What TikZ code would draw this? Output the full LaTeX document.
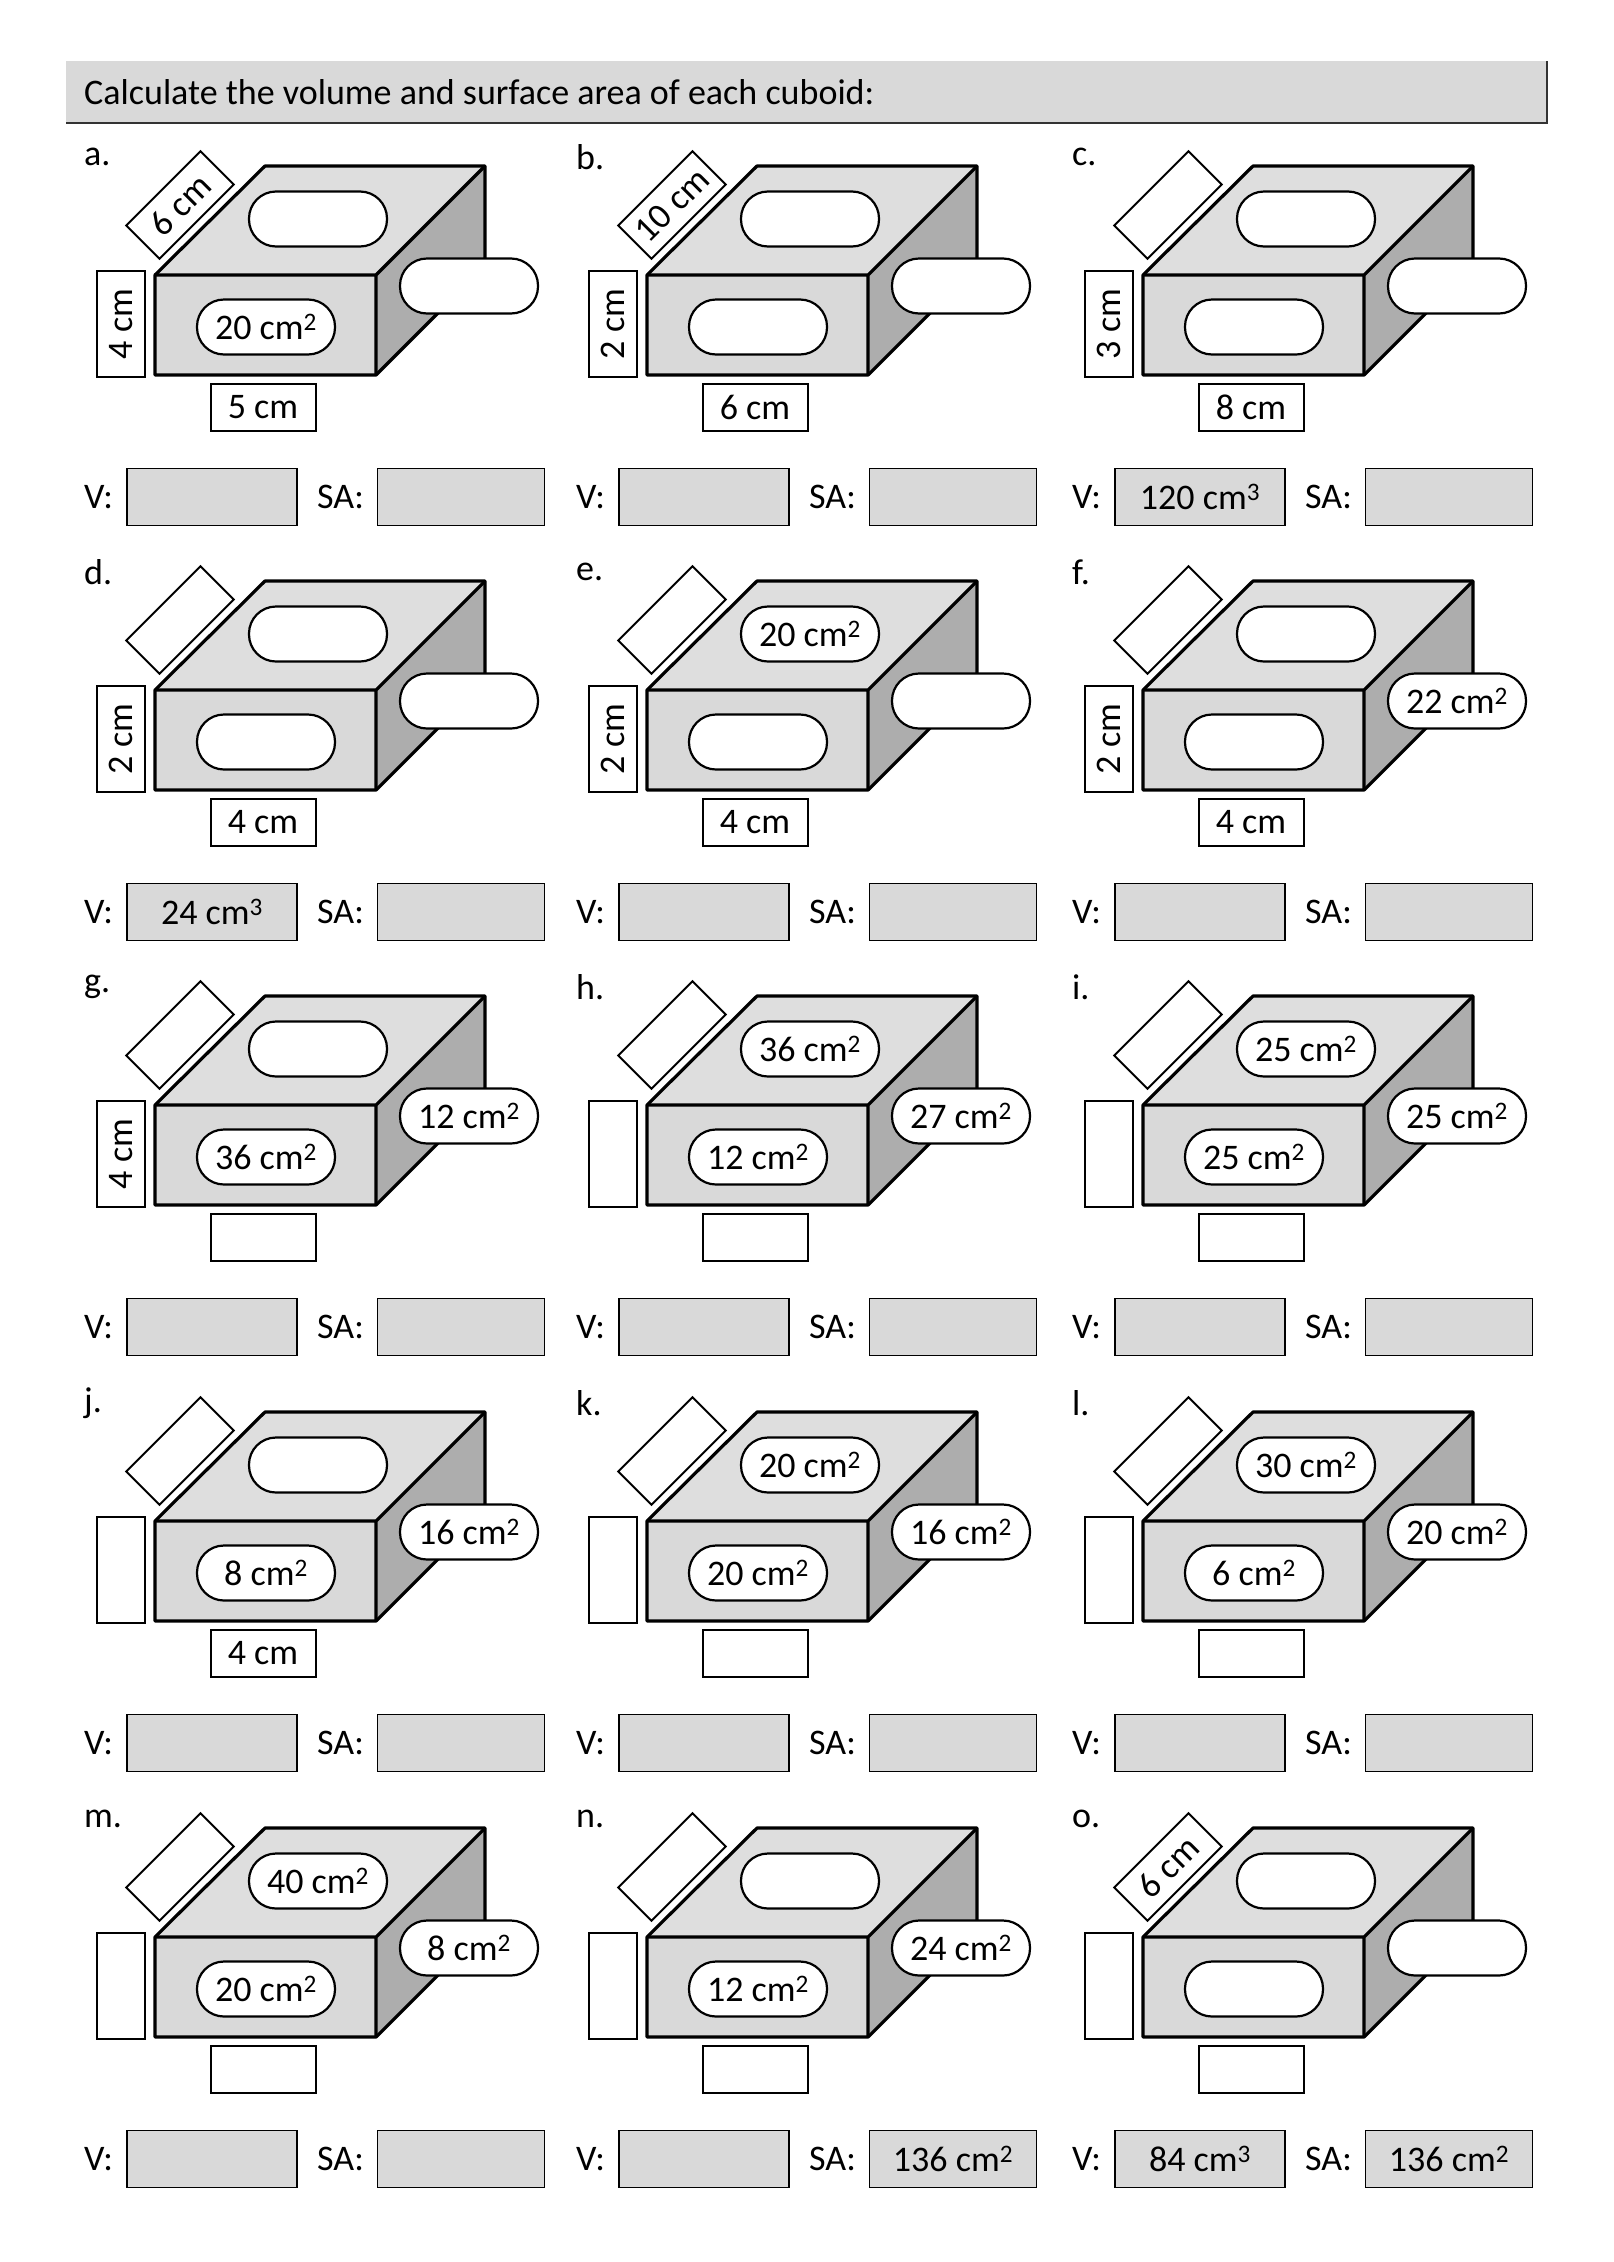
\documentclass[tikz,border=0pt]{standalone}
\usepackage{fontspec}
\setmainfont{Carlito}
\tikzset{
  lbl/.style={draw=black,line width=2.2pt,fill=white,rounded corners=27pt,minimum width=138pt,minimum height=55pt,inner sep=0pt,font=\fontsize{36}{40}\selectfont},
  dimbox/.style={draw=black,line width=2pt,fill=white,inner sep=0pt,font=\fontsize{36}{40}\selectfont},
  ansbox/.style={draw=black,line width=1.8pt,fill=black!15,minimum width=170pt,minimum height=57pt,inner sep=0pt,font=\fontsize{36}{40}\selectfont},
  txt/.style={inner sep=0pt,font=\fontsize{36}{40}\selectfont},
  edge/.style={draw=black,line width=3.2pt,line join=round}
}
\newcommand\cub[8]{%
 \begin{scope}[shift={(#1)}]
  \fill[black!13] (0,0) -- (110,-109) -- (330,-109) -- (221,0) -- cycle;
  \fill[black!32] (221,0) -- (330,-109) -- (330,-9) -- (221,100) -- cycle;
  \fill[black!15] (0,0) rectangle (221,100);
  \draw[edge] (0,0) -- (110,-109) -- (330,-109) -- (330,-9) -- (221,100) -- (0,100) -- cycle;
  \draw[edge] (0,0) -- (221,0) -- (330,-109) (221,0) -- (221,100);
  \node[txt,anchor=west] (#2let) at (-71,-118) {#2.};
  \node[dimbox,minimum width=105pt,minimum height=47pt,rotate=45] (#2dep) at (25,-70) {#3};
  \node[dimbox,minimum width=106pt,minimum height=48pt,rotate=90] (#2hei) at (-34,49) {#4};
  \node[dimbox,minimum width=105pt,minimum height=47pt] (#2wid) at (108,132) {#5};
  \node[lbl] (#2top) at (163,-56) {#6};
  \node[lbl] (#2rig) at (314,11) {#7};
  \node[lbl] (#2fro) at (111,52) {#8};
 \end{scope}}
\newcommand\ans[4]{%
 \begin{scope}[shift={(#1)}]
  \node[txt,anchor=west] (#2vl) at (-71,222) {V:};
  \node[ansbox] (#2v) at (57,222) {#3};
  \node[txt,anchor=west] (#2sl) at (162,222) {SA:};
  \node[ansbox,minimum width=167pt] (#2sa) at (306,222) {#4};
 \end{scope}}
\newcommand\sq{cm\textsuperscript{2}}
\newcommand\cu{cm\textsuperscript{3}}
\begin{document}
\begin{tikzpicture}[x=1pt,y=-1pt]
\useasboundingbox[fill=white] (0,0) rectangle (1614,2262);
\fill[black!15] (66,61) rectangle (1547,123);
\draw[line width=2.5pt,black!80] (66,123) -- (1547,123) -- (1547,61);
\node[txt,anchor=west,font=\fontsize{36}{40}\selectfont] (title) at (84,92) {Calculate the volume and surface area of each cuboid:};
% row 1
\cub{155,275}{a}{6 cm}{4 cm}{5 cm}{}{}{20 \sq}\ans{155,275}{a}{}{}
\cub{647,275}{b}{10 cm}{2 cm}{6 cm}{}{}{}\ans{647,275}{b}{}{}
\cub{1143,275}{c}{}{3 cm}{8 cm}{}{}{}\ans{1143,275}{c}{120 \cu}{}
% row 2
\cub{155,690}{d}{}{2 cm}{4 cm}{}{}{}\ans{155,690}{d}{24 \cu}{}
\cub{647,690}{e}{}{2 cm}{4 cm}{20 \sq}{}{}\ans{647,690}{e}{}{}
\cub{1143,690}{f}{}{2 cm}{4 cm}{}{22 \sq}{}\ans{1143,690}{f}{}{}
% row 3
\cub{155,1105}{g}{}{4 cm}{}{}{12 \sq}{36 \sq}\ans{155,1105}{g}{}{}
\cub{647,1105}{h}{}{}{}{36 \sq}{27 \sq}{12 \sq}\ans{647,1105}{h}{}{}
\cub{1143,1105}{i}{}{}{}{25 \sq}{25 \sq}{25 \sq}\ans{1143,1105}{i}{}{}
% row 4
\cub{155,1521}{j}{}{}{4 cm}{}{16 \sq}{8 \sq}\ans{155,1521}{j}{}{}
\cub{647,1521}{k}{}{}{}{20 \sq}{16 \sq}{20 \sq}\ans{647,1521}{k}{}{}
\cub{1143,1521}{l}{}{}{}{30 \sq}{20 \sq}{6 \sq}\ans{1143,1521}{l}{}{}
% row 5
\cub{155,1937}{m}{}{}{}{40 \sq}{8 \sq}{20 \sq}\ans{155,1937}{m}{}{}
\cub{647,1937}{n}{}{}{}{}{24 \sq}{12 \sq}\ans{647,1937}{n}{}{136 \sq}
\cub{1143,1937}{o}{6 cm}{}{}{}{}{}\ans{1143,1937}{o}{84 \cu}{136 \sq}
\end{tikzpicture}
\end{document}
